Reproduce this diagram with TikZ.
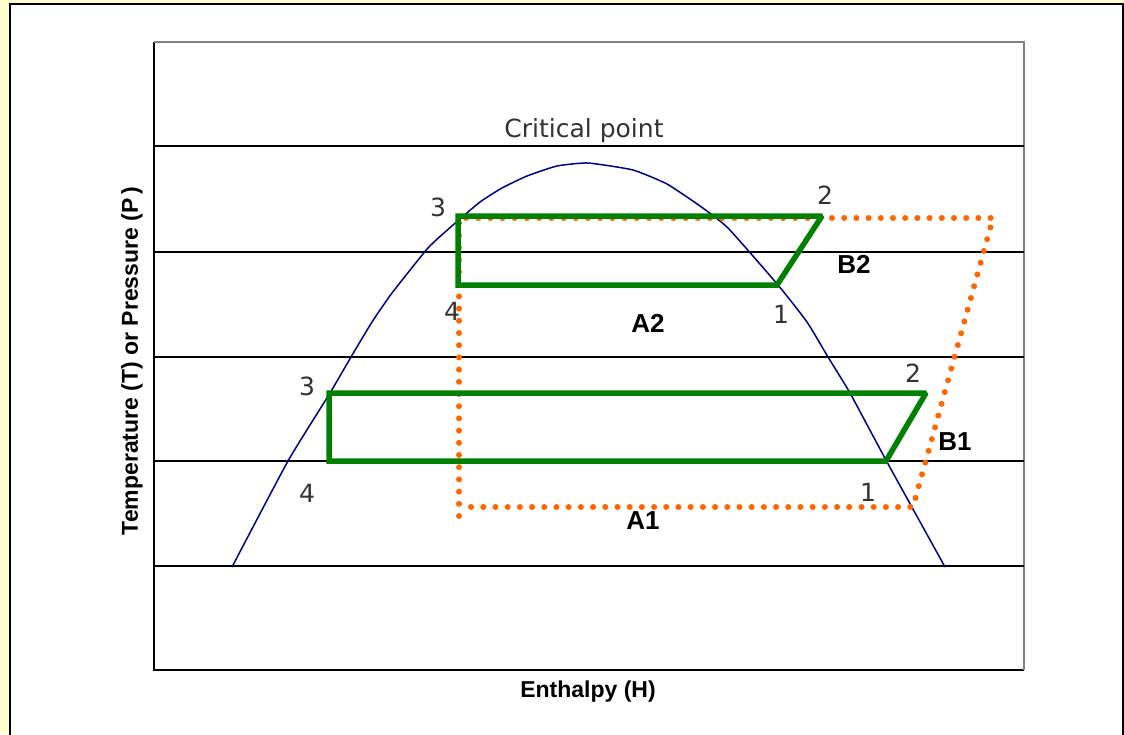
\documentclass[tikz,border=0pt]{standalone}
\usepackage{fontspec}
\setmainfont{Liberation Sans}
\newfontfamily\thinfont{DejaVu Sans}
\definecolor{pagebg}{HTML}{FFFFCC}
\definecolor{cgreen}{HTML}{008000}
\definecolor{corange}{HTML}{FF6600}
\definecolor{cnavy}{HTML}{000080}
\definecolor{framegray}{HTML}{808080}
\begin{document}
\begin{tikzpicture}[x=1pt,y=-1pt,
  gridline/.style={black, line width=1.5pt},
  cyclepath/.style={draw=cgreen, line width=5.5pt, line join=miter, miter limit=2},
  idealpath/.style={draw=corange, line width=6pt, line cap=round, dash pattern=on 0pt off 12.2pt},
  num/.style={font=\thinfont\fontsize{25}{30}\selectfont, text=black!80, inner sep=0pt},
  area/.style={font=\bfseries\fontsize{26}{30}\selectfont, inner sep=0pt},
  axislabel/.style={font=\bfseries\fontsize{23}{28}\selectfont, inner sep=0pt}]
\useasboundingbox (0,0) rectangle (1124,734);
% page background and frame
\fill[pagebg] (0,0) rectangle (1124,734);
\filldraw[fill=white, draw=black, line width=2pt] (10,4) rectangle (1123,740);
% plot area
\draw[black, line width=2pt] (154,42) -- (154,670) -- (1024,670);
\draw[framegray, line width=2pt] (154,42) -- (1024,42) -- (1024,670);
% horizontal pressure lines
\foreach \yy in {146,252,357,461,566}
  \draw[gridline] (154,\yy) -- (1024,\yy);
% saturation dome
\draw[cnavy, line width=1.5pt] plot[smooth, tension=0.3] coordinates {
  (232,567) (288,461) (330,393) (351,357) (372,322) (392,293) (428,248)
  (453,225) (480,202) (502,188) (527,176) (557,166) (588,163) (633,170)
  (667,184) (700,206) (728,228) (778,285) (807,322) (828,357) (850,393)
  (887,462) (945,567)};
% cycle points
\coordinate (u3) at (458,216);
\coordinate (u2) at (822,216);
\coordinate (u1) at (777,285);
\coordinate (u4) at (458,285);
\coordinate (l3) at (329,393);
\coordinate (l2) at (926,393);
\coordinate (l1) at (886,461);
\coordinate (l4) at (329,461);
\coordinate (o1) at (913,507);
\coordinate (o2) at (993,218);
\coordinate (o3) at (459,218);
\coordinate (o4) at (459,516);
\coordinate (o5) at (471,507);
% ideal (orange dotted) cycle
\draw[idealpath] (o4) -- (o3) -- (o2) -- (o1) -- (o5);
% real cycles
\draw[cyclepath] (u3) -- (u2) -- (u1) -- (u4) -- cycle;
\draw[cyclepath] (l3) -- (l2) -- (l1) -- (l4) -- cycle;
% labels
\node[num] (cp) at (584,131) {Critical point};
\node[num] (nu3) at (438,207) {3};
\node[num] (nu4) at (452,311) {4};
\node[num] (nu2) at (825,195) {2};
\node[num] (nu1) at (781,314) {1};
\node[num] (nl3) at (307,386) {3};
\node[num] (nl4) at (307,493) {4};
\node[num] (nl2) at (913,373) {2};
\node[num] (nl1) at (868,492) {1};
\node[area] (b2) at (854,264) {B2};
\node[area] (a2) at (648,323) {A2};
\node[area] (b1) at (955,442) {B1};
\node[area] (a1) at (643,521) {A1};
\node[axislabel] (xl) at (588,692) {Enthalpy (H)};
\node[axislabel, rotate=90] (yl) at (132,361) {Temperature (T) or Pressure (P\,)};
\end{tikzpicture}
\end{document}
